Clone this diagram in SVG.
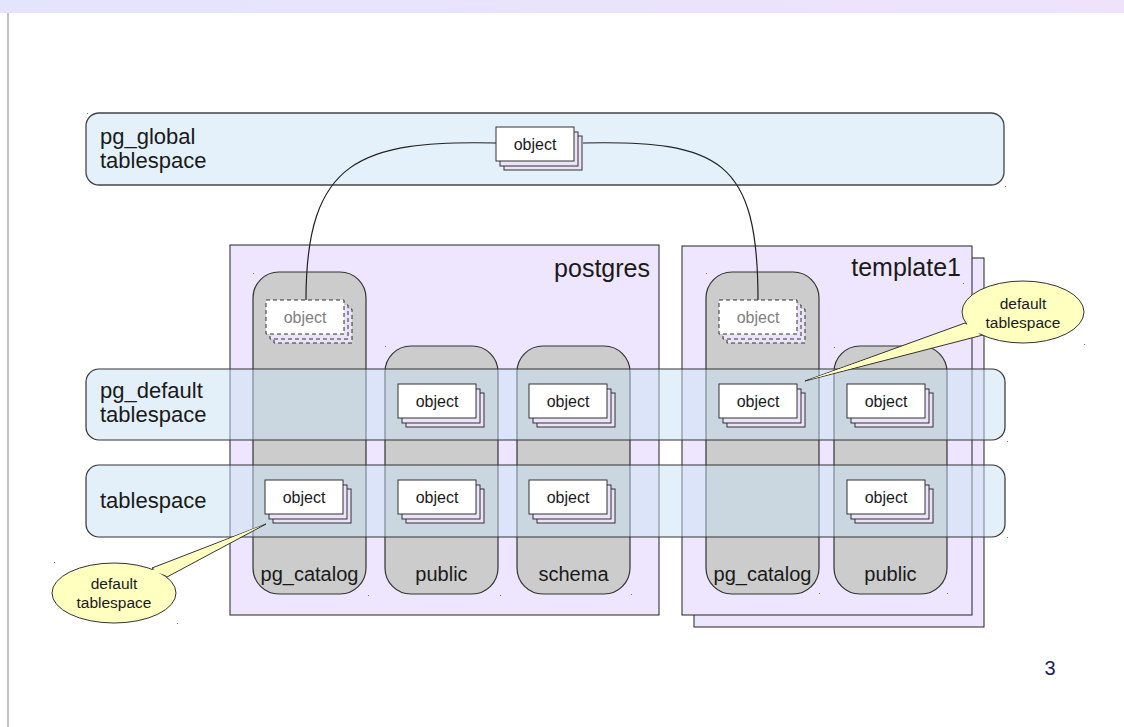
<svg xmlns="http://www.w3.org/2000/svg" width="1124" height="727" viewBox="0 0 1124 727">
  <defs>
    <linearGradient id="topband" x1="0" y1="0" x2="1" y2="0">
      <stop offset="0" stop-color="#e4e4fc"/>
      <stop offset="1" stop-color="#efe3fc"/>
    </linearGradient>
    <!-- stacked object (three sheets) -->
    <g id="stack">
      <rect class="back" x="8" y="9" width="78" height="34"/>
      <rect class="back" x="4" y="5" width="78" height="34"/>
      <rect class="front" x="0" y="0" width="78" height="34"/>
    </g>
    <!-- ghosted, dashed stack -->
    <g id="stack-dashed">
      <rect class="back dashed" x="8" y="9" width="78" height="34"/>
      <rect class="back dashed" x="4" y="5" width="78" height="34"/>
      <rect class="front dashed" x="0" y="0" width="78" height="34"/>
    </g>
  </defs>
  <style>
    text { font-family: "Liberation Sans", Arial, sans-serif; fill: #1a1a1a; }
    .back { fill: #ebe3f8; stroke: #333; stroke-width: 1; }
    .front { fill: #ffffff; stroke: #333; stroke-width: 1; }
    .dashed { stroke-dasharray: 4 3; }
    .db { fill: #eee6fe; stroke: #222; stroke-width: 1; }
    .schema { fill: #cccccc; stroke: #333; stroke-width: 1.2; }
    .band { fill: #c9e2f4; fill-opacity: 0.5; stroke: #333; stroke-width: 1.2; }
    .global { fill: #e4f1fa; stroke: #444; stroke-width: 1.3; }
    .objtxt { font-size: 16px; text-anchor: middle; }
    .ghost { fill: #808080; }
    .schtxt { font-size: 20px; text-anchor: middle; }
    .tstxt { font-size: 22px; }
    .dbtxt { font-size: 25px; text-anchor: end; }
    .callout { fill: #ffffc0; stroke: #333; stroke-width: 1; }
    .calltxt { font-size: 15.5px; text-anchor: middle; }
    .link { fill: none; stroke: #222; stroke-width: 1.2; }
    .mark { fill: #777; }
  </style>

  <!-- page chrome -->
  <rect x="0" y="0" width="1124" height="13" fill="url(#topband)"/>
  <line x1="8" y1="13" x2="8" y2="727" stroke="#c4c4c4" stroke-width="2"/>

  <!-- databases -->
  <g id="db-postgres">
    <rect class="db" x="230" y="245" width="429" height="370"/>
    <text class="dbtxt" x="650" y="277">postgres</text>
  </g>
  <g id="db-template1">
    <rect class="db" x="694" y="258" width="290" height="369"/>
    <rect class="db" x="682" y="246" width="290" height="369"/>
    <text class="dbtxt" x="961" y="276">template1</text>
  </g>

  <!-- schemas -->
  <g id="schema-pg_catalog">
    <rect class="schema" x="253" y="272" width="113" height="322" rx="26"/>
    <text class="schtxt" x="309.5" y="581">pg_catalog</text>
  </g>
  <g id="schema-public">
    <rect class="schema" x="385" y="346" width="113" height="248" rx="26"/>
    <text class="schtxt" x="441.5" y="581">public</text>
  </g>
  <g id="schema-schema">
    <rect class="schema" x="517" y="346" width="113" height="248" rx="26"/>
    <text class="schtxt" x="573.5" y="581">schema</text>
  </g>
  <g id="t1-schema-pg_catalog">
    <rect class="schema" x="706" y="272" width="113" height="322" rx="26"/>
    <text class="schtxt" x="762.5" y="581">pg_catalog</text>
  </g>
  <g id="t1-schema-public">
    <rect class="schema" x="834" y="346" width="113" height="248" rx="26"/>
    <text class="schtxt" x="890.5" y="581">public</text>
  </g>

  <!-- global tablespace -->
  <g id="ts-pg_global">
    <rect class="global" x="86" y="113" width="918" height="72" rx="13"/>
    <text class="tstxt" x="100" y="144">pg_global</text>
    <text class="tstxt" x="100" y="168">tablespace</text>
  </g>

  <!-- connectors from shared catalog object to each database's catalog -->
  <g id="connectors">
    <path class="link" d="M496 143 C360 140 306 160 306 300"/>
    <path class="link" d="M583 143 C720 140 758 160 758 300"/>
  </g>

  <g id="obj-global">
    <use href="#stack" x="496" y="127"/>
    <text class="objtxt" x="535" y="150">object</text>
  </g>

  <!-- catalog objects that live in pg_global -->
  <g id="obj-pgcat-ghost">
    <use href="#stack-dashed" x="266" y="300"/>
    <text class="objtxt ghost" x="305" y="323">object</text>
  </g>
  <g id="obj-t1-pgcat-ghost">
    <use href="#stack-dashed" x="719" y="300"/>
    <text class="objtxt ghost" x="758" y="323">object</text>
  </g>

  <!-- tablespace bands -->
  <g id="ts-pg_default">
    <rect class="band" x="86" y="369" width="919" height="71" rx="13"/>
    <text class="tstxt" x="100" y="398">pg_default</text>
    <text class="tstxt" x="100" y="422">tablespace</text>
  </g>
  <g id="ts-tablespace">
    <rect class="band" x="86" y="465" width="919" height="72" rx="13"/>
    <text class="tstxt" x="100" y="508">tablespace</text>
  </g>

  <!-- objects in pg_default -->
  <g id="obj-public-default">
    <use href="#stack" x="398" y="384"/>
    <text class="objtxt" x="437" y="407">object</text>
  </g>
  <g id="obj-schema-default">
    <use href="#stack" x="529" y="384"/>
    <text class="objtxt" x="568" y="407">object</text>
  </g>
  <g id="obj-t1-pgcat-default">
    <use href="#stack" x="719" y="384"/>
    <text class="objtxt" x="758" y="407">object</text>
  </g>
  <g id="obj-t1-public-default">
    <use href="#stack" x="847" y="384"/>
    <text class="objtxt" x="886" y="407">object</text>
  </g>

  <!-- objects in user tablespace -->
  <g id="obj-pgcat-ts">
    <use href="#stack" x="265" y="480"/>
    <text class="objtxt" x="304" y="503">object</text>
  </g>
  <g id="obj-public-ts">
    <use href="#stack" x="398" y="480"/>
    <text class="objtxt" x="437" y="503">object</text>
  </g>
  <g id="obj-schema-ts">
    <use href="#stack" x="529" y="480"/>
    <text class="objtxt" x="568" y="503">object</text>
  </g>
  <g id="obj-t1-public-ts">
    <use href="#stack" x="847" y="480"/>
    <text class="objtxt" x="886" y="503">object</text>
  </g>

  <!-- callouts -->
  <g id="callout-right">
    <polygon class="callout" points="965,323 805,381 983,335"/>
    <ellipse class="callout" cx="1023" cy="312" rx="61" ry="31"/>
    <polygon points="968,324 808,380 981,333" fill="#ffffc0"/>
    <text class="calltxt" x="1023" y="309">default</text>
    <text class="calltxt" x="1023" y="328">tablespace</text>
  </g>
  <g id="callout-left">
    <polygon class="callout" points="152,568 266,524 167,577"/>
    <ellipse class="callout" cx="114" cy="593" rx="62" ry="30"/>
    <polygon points="150,571 263,525 166,575" fill="#ffffc0"/>
    <text class="calltxt" x="114" y="589">default</text>
    <text class="calltxt" x="114" y="608">tablespace</text>
  </g>

  <!-- corner marks -->
  <g id="marks">
    <rect class="mark" x="87" y="113" width="1" height="1"/>
    <rect class="mark" x="1005" y="186" width="1" height="1"/>
    <rect class="mark" x="253" y="273" width="1" height="1"/>
    <rect class="mark" x="368" y="595" width="1" height="1"/>
    <rect class="mark" x="385" y="346" width="1" height="1"/>
    <rect class="mark" x="500" y="595" width="1" height="1"/>
    <rect class="mark" x="631" y="594" width="1" height="1"/>
    <rect class="mark" x="706" y="273" width="1" height="1"/>
    <rect class="mark" x="819" y="593" width="1" height="1"/>
    <rect class="mark" x="834" y="347" width="1" height="1"/>
    <rect class="mark" x="947" y="593" width="1" height="1"/>
    <rect class="mark" x="963" y="283" width="1" height="1"/>
    <rect class="mark" x="1084" y="344" width="1" height="1"/>
    <rect class="mark" x="1007" y="537" width="1" height="1"/>
    <rect class="mark" x="1007" y="441" width="1" height="1"/>
    <rect class="mark" x="54" y="562" width="1" height="1"/>
    <rect class="mark" x="177" y="623" width="1" height="1"/>
  </g>

  <text x="1050" y="675" font-size="20" text-anchor="middle" style="fill:#1c1c58">3</text>
</svg>
